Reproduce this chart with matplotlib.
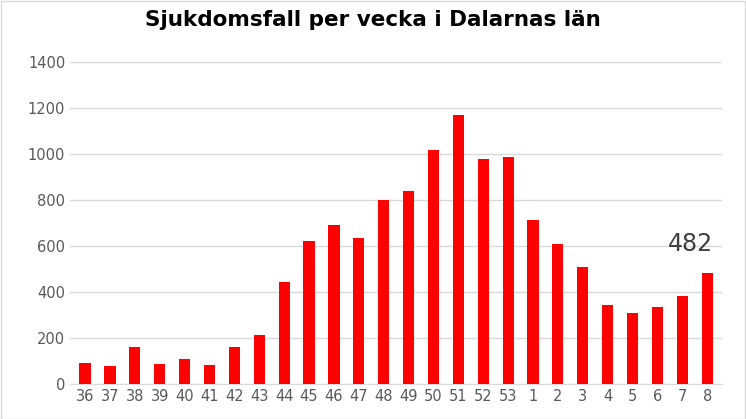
import matplotlib.pyplot as plt

weeks = ["36", "37", "38", "39", "40", "41", "42", "43", "44", "45", "46", "47", "48",
         "49", "50", "51", "52", "53", "1", "2", "3", "4", "5", "6", "7", "8"]
cases = [91, 78, 163, 87, 109, 83, 160, 213, 443, 622, 691, 635, 800,
         839, 1017, 1170, 978, 987, 713, 609, 509, 343, 309, 335, 383, 482]

fig = plt.figure(figsize=(7.46, 4.19), dpi=100)
ax = fig.add_axes([0.094, 0.083, 0.874, 0.77])
x = range(len(weeks))
ax.bar(x, cases, width=0.45, color="#ff0000", zorder=3)
ax.set_xticks(list(x))
ax.set_xticklabels(weeks)
ax.set_xlim(-0.6, len(weeks) - 0.4)
ax.set_ylim(0, 1400)
ax.set_yticks(range(0, 1401, 200))
ax.grid(axis="y", color="#d9d9d9", linewidth=1, zorder=0)
for s in ["top", "right", "left"]:
    ax.spines[s].set_visible(False)
ax.spines["bottom"].set_color("#d9d9d9")
ax.tick_params(length=0, labelsize=10.5, colors="#595959")
ax.annotate(str(cases[-1]), (len(weeks) - 1, cases[-1]), xytext=(-12, 12),
            textcoords="offset points", ha="center", va="bottom",
            fontsize=17, color="#404040")
fig.suptitle("Sjukdomsfall per vecka i Dalarnas län", y=0.975,
             fontsize=15.5, fontweight="bold", color="black")
fig.patches.append(plt.Rectangle((0.001, 0.001), 0.997, 0.997, transform=fig.transFigure,
                                 fill=False, edgecolor="#d9d9d9", linewidth=1))
fig.savefig("out.png", dpi=100)
